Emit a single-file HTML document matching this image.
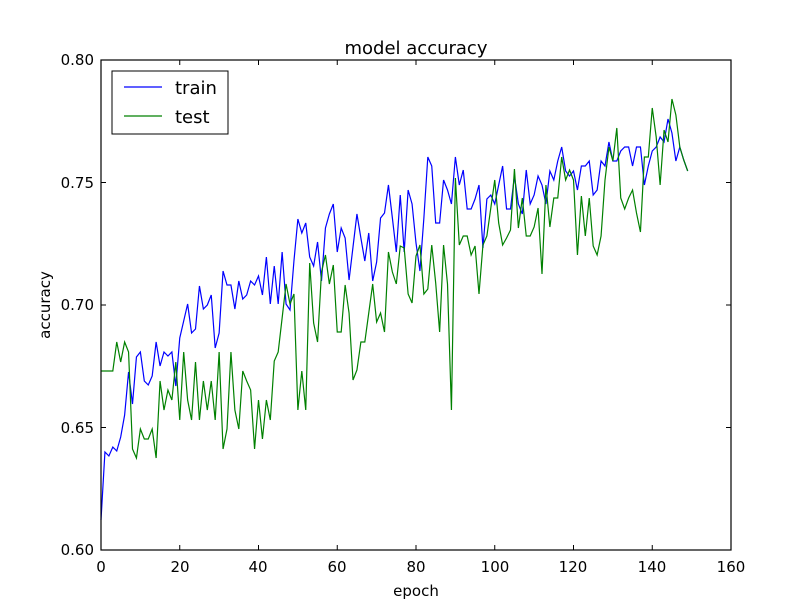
<!DOCTYPE html>
<html><head><meta charset="utf-8"><style>body{margin:0;background:#fff}svg{display:block}text{font-family:"DejaVu Sans","Liberation Sans",sans-serif;fill:#000}</style></head>
<body>
<svg id="s" width="812" height="612" xmlns="http://www.w3.org/2000/svg">
<rect width="812" height="612" fill="#fff"/>
<text x="416" y="54" font-size="18" text-anchor="middle">model accuracy</text>
<polyline id="tr" fill="none" stroke="#0000ff" stroke-width="1.2"/>
<polyline id="te" fill="none" stroke="#008000" stroke-width="1.2"/>
<rect x="101" y="60" width="630" height="490" fill="none" stroke="#000" stroke-width="1.2"/>
<g id="ticks" stroke="#000" stroke-width="1"></g>
<g font-size="15" text-anchor="end">
<text x="94" y="555">0.60</text><text x="94" y="433">0.65</text><text x="94" y="310">0.70</text><text x="94" y="188">0.75</text><text x="94" y="65">0.80</text>
</g>
<g font-size="15" text-anchor="middle">
<text x="101" y="572">0</text><text x="180" y="572">20</text><text x="258" y="572">40</text><text x="337" y="572">60</text><text x="416" y="572">80</text><text x="495" y="572">100</text><text x="573" y="572">120</text><text x="652" y="572">140</text><text x="731" y="572">160</text>
</g>
<text x="416" y="596" font-size="15" text-anchor="middle">epoch</text>
<text x="50" y="305" font-size="15" text-anchor="middle" transform="rotate(-90 50 305)">accuracy</text>
<rect x="112" y="71" width="116" height="63" fill="#fff" stroke="#000" stroke-width="1"/>
<line x1="124" y1="87" x2="162" y2="87" stroke="#0000ff" stroke-width="1.2"/>
<line x1="124" y1="116" x2="162" y2="116" stroke="#008000" stroke-width="1.2"/>
<text x="175" y="94" font-size="18">train</text>
<text x="175" y="123" font-size="18">test</text>
</svg>
<script>
var tr=[520,452,456,447,451,437,415,372,404,357,352,381,385,376,342,366,352,356,352,386,338,321,304,333,329,286,309,305,295,348,333,271,285,285,309,281,299,295,281,285,276,295,257,304,266,304,252,304,310,261,219,233,223,257,266,242,281,228,214,204,252,228,238,280,247,214,238,261,233,281,262,218,213,185,218,252,195,252,190,204,243,271,218,157,166,223,223,180,190,204,157,185,170,209,209,199,185,248,199,195,204,185,166,209,209,176,204,214,170,204,195,176,185,204,171,180,161,147,171,176,171,190,166,166,161,195,190,161,166,142,161,161,151,147,147,166,147,147,185,166,151,147,137,142,119,133,161,147,160,171];
var te=[371,371,371,371,342,362,342,352,449,458,429,439,439,429,458,381,410,390,400,362,420,352,400,420,362,420,381,410,381,420,352,449,429,352,410,429,371,381,390,449,400,439,400,420,361,352,318,284,304,294,410,371,410,263,323,342,272,255,284,265,332,332,285,313,380,370,342,342,313,284,322,313,332,252,272,284,246,248,294,303,256,245,294,289,245,283,332,245,284,410,178,245,236,236,255,246,294,245,236,208,180,223,245,238,230,169,228,198,236,236,227,208,274,185,227,198,198,157,180,170,180,255,196,236,198,246,255,236,180,147,161,128,198,209,198,190,213,232,157,157,108,137,185,130,142,99,115,147,160,171];
function pts(a){return a.map(function(v,i){return (101+3.9375*i).toFixed(2)+","+v}).join(" ")}
document.getElementById("tr").setAttribute("points",pts(tr));
document.getElementById("te").setAttribute("points",pts(te));
var g=document.getElementById("ticks"),h="";
for(var i=0;i<=160;i+=20){var x=101+3.9375*i;h+='<line x1="'+x+'" y1="550" x2="'+x+'" y2="545"/><line x1="'+x+'" y1="60" x2="'+x+'" y2="65"/>';}
for(var j=0;j<5;j++){var y=60+122.5*j;h+='<line x1="101" y1="'+y+'" x2="106" y2="'+y+'"/><line x1="731" y1="'+y+'" x2="726" y2="'+y+'"/>';}
g.innerHTML=h;
</script>
</body></html>
